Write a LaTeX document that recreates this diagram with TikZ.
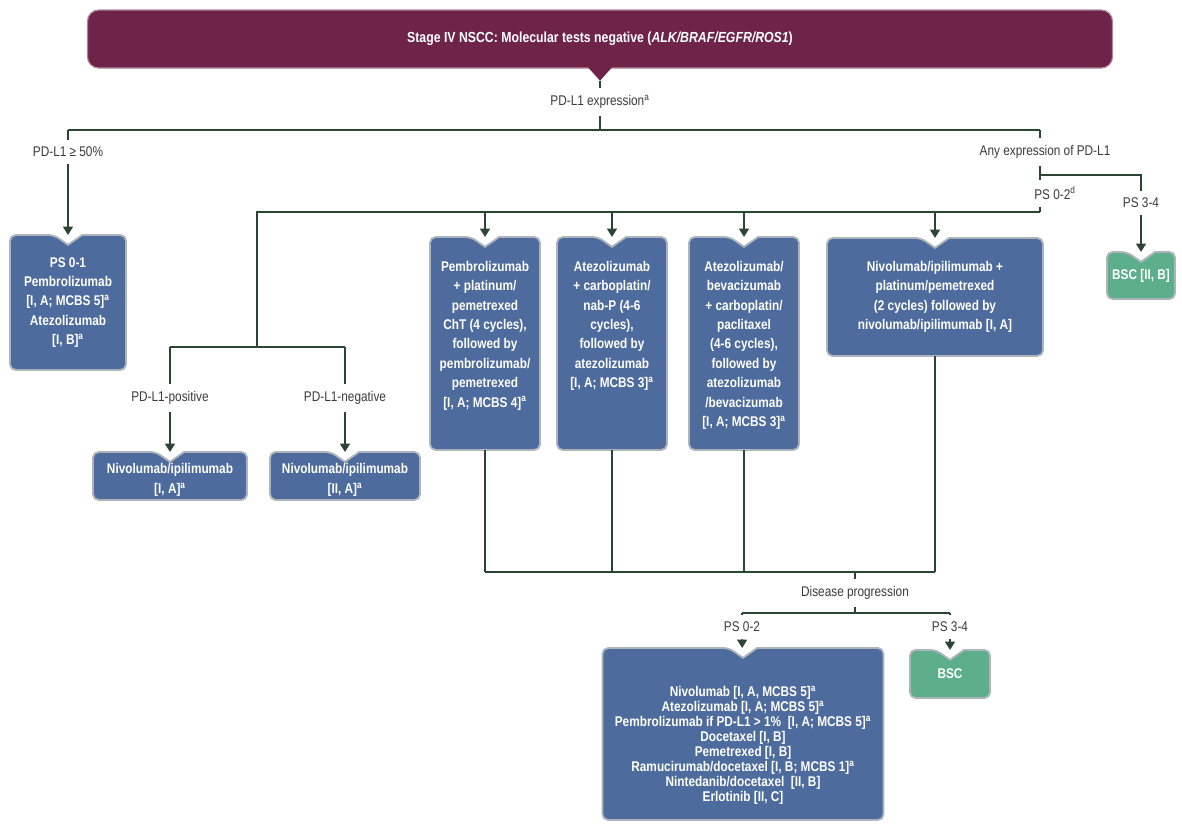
\documentclass[tikz,border=0pt]{standalone}
\usepackage{fontspec}
\newfontfamily\condf{Liberation Sans}[FakeStretch=0.84]
\usetikzlibrary{arrows.meta,backgrounds}

\definecolor{bannerred}{HTML}{6E2449}
\definecolor{boxblue}{HTML}{4D6B9C}
\definecolor{boxgreen}{HTML}{5DAE8B}
\definecolor{edgegray}{HTML}{AEB4BC}
\definecolor{linegreen}{HTML}{2B4534}
\definecolor{labelgray}{HTML}{3A3A3A}

\newcommand\boxfont{\condf\bfseries\fontsize{10}{13.8}\selectfont}
\newcommand\listfont{\condf\bfseries\fontsize{10}{10.7}\selectfont}
\newcommand\lblfont{\condf\fontsize{10}{12}\selectfont}

% box outline with the V notch on top
\newcommand\notchbox[2]{%
  \begin{scope}[on background layer]
    \draw[boxedge, fill=#2] (#1.west) -- (#1.north west) -- ([xshift=-10pt]#1.north)
      [sharp corners] -- ([yshift=-7pt]#1.north) -- ([xshift=10pt]#1.north)
      [rounded corners=4pt] -- (#1.north east)
      -- (#1.south east) -- (#1.south west) -- cycle;
  \end{scope}}

\tikzset{
  box/.style={rectangle, inner sep=0pt, outer sep=0pt, text=white, font=\boxfont, align=center},
  bw/.style={minimum width=#1*0.025cm},
  bh/.style={minimum height=#1*0.025cm},
  lbl/.style={text=labelgray, font=\lblfont, inner xsep=2pt, inner ysep=5pt},
  conn/.style={draw=linegreen, line width=1.4pt},
  arr/.style={conn, -{Triangle[width=7pt,length=6pt]}},
  boxedge/.style={draw=edgegray, line width=1.3pt, rounded corners=4pt}
}

\begin{document}
\begin{tikzpicture}[x=0.025cm, y=-0.025cm]
    \useasboundingbox (0,0) rectangle (1182,823);

    % header
    \node[box, bw=1025, bh=58, font=\condf\bfseries\fontsize{10.4}{12}\selectfont] (banner) at (600,39)
        {Stage IV NSCC: Molecular tests negative (\textit{ALK/BRAF/EGFR/ROS1})};
    \coordinate (bantip) at ([yshift=-9pt]banner.south);
    \begin{scope}[on background layer]
        \draw[fill=bannerred, draw=bannerred!55!white, line width=0.8pt, rounded corners=8pt]
            (banner.north west) rectangle (banner.south east);
        \fill[bannerred] ([xshift=-9pt, yshift=1pt]banner.south) -- (bantip) -- ([xshift=9pt, yshift=1pt]banner.south) -- cycle;
    \end{scope}

    % labels
    \node[lbl] (expr) at (600,102) {PD-L1 expression\textsuperscript{a}};
    \node[lbl] (hi) at (68,152) {PD-L1 ≥ 50\%};
    \node[lbl] (anyx) at (1045,152) {Any expression of PD-L1};
    \node[lbl] (ps02) at (1055,193) {PS 0-2\textsuperscript{d}};
    \node[lbl] (ps34) at (1141,203) {PS 3-4};
    \node[lbl] (lpos) at (170,398) {PD-L1-positive};
    \node[lbl] (lneg) at (345,398) {PD-L1-negative};
    \node[lbl] (prog) at (855,593) {Disease progression};
    \node[lbl] (ps02b) at (742,627) {PS 0-2};
    \node[lbl] (ps34b) at (950,627) {PS 3-4};

    % boxes
    \node[box, bw=116, bh=135] (box01) at (68,302.5)
        {PS 0-1\\Pembrolizumab\\{}[I, A; MCBS 5]\textsuperscript{a}\\Atezolizumab\\{}[I, B]\textsuperscript{a}};
    \node[box, bw=154, bh=48] (bpos) at (170,476) {};
    \node[box, bw=150, bh=48] (bneg) at (345,476) {};
    \node[box] (postxt) at (170,480) {Nivolumab/ipilimumab\\{}[I, A]\textsuperscript{a}};
    \node[box] (negtxt) at (345,480) {Nivolumab/ipilimumab\\{}[II, A]\textsuperscript{a}};
    \node[box, bw=110, bh=213] (pemb) at (485,343.5) {};
    \node[box, bw=110, bh=213] (atez) at (612,343.5) {};
    \node[box, bw=110, bh=213] (atbev) at (744,343.5) {};
    \node[box, anchor=north] (pembtxt) at (485,261)
        {Pembrolizumab\\+ platinum/\\pemetrexed\\ChT (4 cycles),\\followed by\\pembrolizumab/\\pemetrexed\\{}[I, A; MCBS 4]\textsuperscript{a}};
    \node[box, anchor=north] (ateztxt) at (612,261)
        {Atezolizumab\\+ carboplatin/\\nab-P (4-6\\cycles),\\followed by\\atezolizumab\\{}[I, A; MCBS 3]\textsuperscript{a}};
    \node[box, anchor=north] (atbevtxt) at (744,261)
        {Atezolizumab/\\bevacizumab\\+ carboplatin/\\paclitaxel\\(4-6 cycles),\\followed by\\atezolizumab\\/bevacizumab\\{}[I, A; MCBS 3]\textsuperscript{a}};
    \node[box, bw=216, bh=118] (nivip) at (935,297)
        {Nivolumab/ipilimumab +\\platinum/pemetrexed\\(2 cycles) followed by\\nivolumab/ipilimumab [I, A]};
    \node[box, bw=68, bh=47] (bsc1) at (1141,275.5) {BSC [II, B]};
    \node[box, bw=281, bh=172] (bprog) at (743,734) {};
    \node[box, anchor=north, font=\listfont] (progtxt) at (743,686)
        {Nivolumab [I, A, MCBS 5]\textsuperscript{a}\\Atezolizumab [I, A; MCBS 5]\textsuperscript{a}\\Pembrolizumab if PD-L1 > 1\%\ \ [I, A; MCBS 5]\textsuperscript{a}\\Docetaxel [I, B]\\Pemetrexed [I, B]\\Ramucirumab/docetaxel [I, B; MCBS 1]\textsuperscript{a}\\Nintedanib/docetaxel\ \ [II, B]\\Erlotinib [II, C]};
    \node[box, bw=80, bh=48] (bsc2) at (950,674) {BSC};

    \foreach \b in {box01,bpos,bneg,pemb,atez,atbev,nivip,bprog}
        \notchbox{\b}{boxblue};
    \notchbox{bsc1}{boxgreen}
    \notchbox{bsc2}{boxgreen}

    % junctions
    \coordinate (jtop) at (600,130);
    \coordinate (jl) at (68,130);
    \coordinate (jr) at (1040,130);
    \coordinate (jside) at (1040,175);
    \coordinate (jmid) at (1040,212);
    \coordinate (jleft) at (257,212);
    \coordinate (jsplit) at (257,347);
    \coordinate (jpos) at (170,347);
    \coordinate (jneg) at (345,347);
    \coordinate (jjoin) at (485,572);
    \coordinate (jlow) at (935,572);
    \coordinate (jprog) at (855,572);
    \coordinate (jfork) at (855,613);
    \coordinate (jfl) at (742,613);
    \coordinate (jfr) at (950,613);

    % connectors
    \draw[conn] (bantip) -- (expr);
    \draw[conn] (expr) -- (jtop);
    \draw[conn] (jl) -- (jr);
    \draw[conn] (jl) -- (hi);
    \draw[arr] (hi) -- (box01);
    \draw[conn] (jr) -- (jr |- anyx.north);
    \draw[conn] (jr |- anyx.south) -- (jr |- ps02.north);
    \draw[conn] (jside) -| (ps34);
    \draw[arr] (ps34) -- (bsc1);
    \draw[conn] (jr |- ps02.south) -- (jmid);
    \draw[conn] (jmid) -- (jleft) -- (jsplit);
    \draw[conn] (jpos) -- (jneg);
    \draw[conn] (jpos) -- (lpos);
    \draw[arr] (lpos) -- (bpos);
    \draw[conn] (jneg) -- (lneg);
    \draw[arr] (lneg) -- (bneg);
    \foreach \b in {pemb,atez,atbev,nivip} {
        \draw[arr] (\b |- jmid) -- (\b);
        \draw[conn] (\b) -- (\b |- jjoin);
    }
    \draw[conn] (jjoin) -- (jlow);
    \draw[conn] (jprog) -- (prog);
    \draw[conn] (prog) -- (jfork);
    \draw[conn] (jfl) -- (jfr);
    \draw[conn] (jfl) -- (ps02b);
    \draw[arr] (ps02b) -- (bprog);
    \draw[conn] (jfr) -- (ps34b);
    \draw[arr] (ps34b) -- (bsc2);
\end{tikzpicture}
\end{document}
